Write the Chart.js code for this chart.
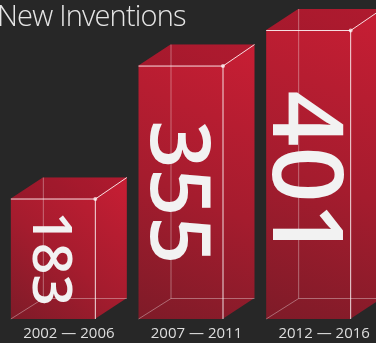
<!DOCTYPE html>
<html>
<head>
<meta charset="utf-8">
<script src="https://cdn.jsdelivr.net/npm/chart.js@4"></script>
<style>
  html, body { margin: 0; padding: 0; background: #272727; overflow: hidden; }
  #wrap { position: relative; width: 376px; height: 343px; overflow: hidden; }
  #title {
    position: absolute; left: -3px; top: -5px;
    font: 300 29px "Open Sans", sans-serif; color: #e6e6e6;
    letter-spacing: -0.8px; white-space: nowrap;
  }
  canvas { position: absolute; left: 0; top: 0; }
</style>
</head>
<body>
<div id="wrap">
  <canvas id="chart" width="390" height="343"></canvas>
  <div id="title">New Inventions</div>
</div>
<script>
const periods = ['2002 — 2006', '2007 — 2011', '2012 — 2016'];
const inventions = [183, 355, 401];

// size of the big rotated numbers in each box
const numberSizes = [55, 84, 98];
const DX = 32, DY = 21;

const boxes = {
    id: 'boxes',
    afterDatasetsDraw(chart) {
        const ctx = chart.ctx;
        const meta = chart.getDatasetMeta(0);
        meta.data.forEach((bar, i) => {
            const left = bar.x - bar.width / 2;
            const right = bar.x + bar.width / 2;
            const fr = right - DX;       // front right
            const bl = left + DX;        // back left
            const top = bar.y;           // back top
            const ft = top + DY;         // front top
            const base = bar.base;       // front bottom
            const bb = base - DY;        // back bottom

            ctx.save();
            // silhouette
            const g = ctx.createLinearGradient(right, top, left, base);
            g.addColorStop(0, '#c81e34');
            g.addColorStop(0.55, '#a51c2e');
            g.addColorStop(1, '#7e1b28');
            ctx.beginPath();
            ctx.moveTo(left, base);
            ctx.lineTo(left, ft);
            ctx.lineTo(bl, top);
            ctx.lineTo(right, top);
            ctx.lineTo(right, bb);
            ctx.lineTo(fr, base);
            ctx.closePath();
            ctx.fillStyle = g;
            ctx.fill();

            // top face a bit darker
            ctx.beginPath();
            ctx.moveTo(left, ft);
            ctx.lineTo(bl, top);
            ctx.lineTo(right, top);
            ctx.lineTo(fr, ft);
            ctx.closePath();
            ctx.fillStyle = 'rgba(40,10,20,0.15)';
            ctx.fill();

            // hidden edges
            ctx.lineWidth = 1;
            ctx.strokeStyle = 'rgba(255,255,255,0.35)';
            ctx.beginPath();
            ctx.moveTo(bl + 0.5, top);
            ctx.lineTo(bl + 0.5, bb + 0.5);
            ctx.lineTo(right, bb + 0.5);
            ctx.moveTo(bl + 0.5, bb + 0.5);
            ctx.lineTo(left, base);
            ctx.stroke();

            // front edges
            ctx.strokeStyle = 'rgba(255,255,255,0.85)';
            ctx.beginPath();
            ctx.moveTo(left, ft + 0.5);
            ctx.lineTo(fr + 0.5, ft + 0.5);
            ctx.lineTo(fr + 0.5, base);
            ctx.moveTo(fr + 0.5, ft + 0.5);
            ctx.lineTo(right, top);
            ctx.stroke();

            ctx.fillStyle = 'rgba(255,255,255,0.7)';
            ctx.beginPath();
            ctx.arc(fr + 0.5, ft + 0.5, 2, 0, Math.PI * 2);
            ctx.fill();

            // rotated value, centred on the front face
            ctx.translate((left + fr) / 2, (ft + base) / 2);
            ctx.rotate(Math.PI / 2);
            ctx.fillStyle = '#f2f2f2';
            ctx.font = '600 ' + numberSizes[i] + 'px "Open Sans", sans-serif';
            ctx.textAlign = 'center';
            ctx.textBaseline = 'alphabetic';
            const txt = String(inventions[i]);
            const m = ctx.measureText(txt);
            ctx.fillText(txt, 0, (m.actualBoundingBoxAscent - m.actualBoundingBoxDescent) / 2);
            ctx.restore();
        });
    }
};

new Chart(document.getElementById('chart'), {
    type: 'bar',
    data: {
        labels: periods,
        datasets: [{
            data: inventions,
            backgroundColor: 'rgba(0,0,0,0)',
            barThickness: 116
        }]
    },
    options: {
        responsive: false,
        animation: false,
        layout: { padding: { left: 5, right: 2, top: 9, bottom: 0 } },
        plugins: { legend: { display: false }, tooltip: { enabled: false } },
        scales: {
            x: {
                grid: { display: false, drawTicks: false },
                border: { display: false },
                afterFit: (scale) => { scale.height = 24; },
                ticks: {
                    color: '#dedede',
                    padding: 6,
                    font: { family: '"Open Sans", sans-serif', size: 15 }
                }
            },
            y: { display: false, min: 0, max: 401 }
        }
    },
    plugins: [boxes]
});
</script>
</body>
</html>
